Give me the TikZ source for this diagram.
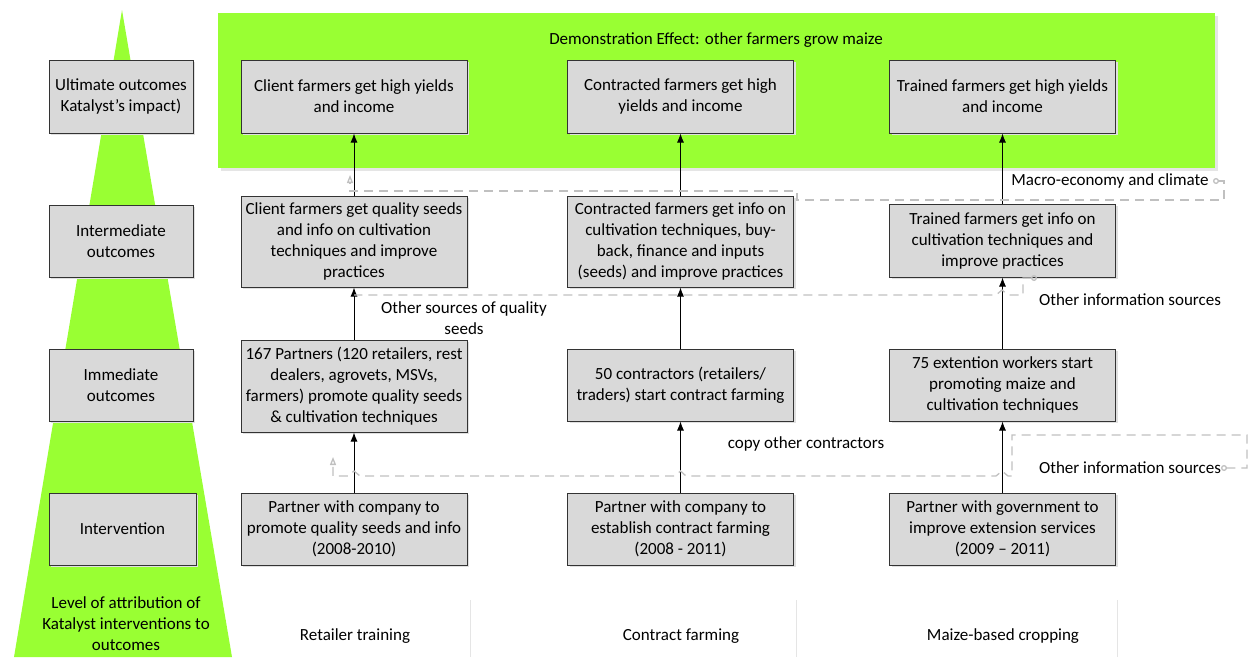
\documentclass[tikz,border=0pt]{standalone}
\usepackage{fontspec}
\setmainfont{Carlito}
\usetikzlibrary{arrows.meta,shadows}
\definecolor{lime}{RGB}{153,255,51}
\definecolor{boxgray}{RGB}{217,217,217}
\definecolor{dashgray}{RGB}{192,192,192}

\begin{document}
\begin{tikzpicture}[x=1pt,y=-1pt]
				\tikzset{every node/.style={font=\fontsize{17}{21}\selectfont,inner sep=2pt}}
				\tikzset{box/.style={draw=black!80,fill=boxgray,line width=1pt,align=center,minimum width=226pt,minimum height=73pt,drop shadow={shadow xshift=2pt,shadow yshift=-2pt,fill=black!12,opacity=1}}}
				\tikzset{lvl/.style={box,minimum width=144pt}}
				\tikzset{arr/.style={-{Latex[length=9pt,width=7pt]},line width=1pt}}
				\tikzset{ext/.style={dashgray,line width=1.3pt,dash pattern=on 9pt off 6pt}}
				\useasboundingbox (0,0) rectangle (1251,657);
				\fill[lime] (122,10) -- (14,657) -- (232,657) -- cycle;
				\fill[black!10] (221,16) rectangle (1218,171);
				\fill[lime] (218,13) rectangle (1215,168);
				\node (demolbl) at (716,40) {Demonstration Effect: other farmers grow maize};
				\node[lvl] (lvlult) at (121,96.5) {Ultimate outcomes\\Katalyst's impact)};
				\node[lvl,minimum height=72pt] (lvlint) at (121,241) {Intermediate\\outcomes};
				\node[lvl,minimum height=72pt] (lvlimm) at (121,385) {Immediate\\outcomes};
				\node[lvl,minimum width=147pt,minimum height=72pt] (lvlintv) at (122.5,529) {Intervention};
				\node[align=center] (lvlattr) at (126,624) {Level of attribution of\\Katalyst interventions to\\outcomes};
				\node[box] (ultA) at (354,96.5) {Client farmers get high yields\\and income};
				\node[box] (ultB) at (680.5,96.5) {Contracted farmers get high\\yields and income};
				\node[box] (ultC) at (1002.5,96.5) {Trained farmers get high yields\\and income};
				\node[box,minimum height=91pt] (intA) at (354,241.5) {Client farmers get quality seeds\\and info on cultivation\\techniques and improve\\practices};
				\node[box,minimum height=91pt] (intB) at (680.5,241.5) {Contracted farmers get info on\\cultivation techniques, buy-\\back, finance and inputs\\(seeds) and improve practices};
				\node[box] (intC) at (1002.5,240.5) {Trained farmers get info on\\cultivation techniques and\\improve practices};
				\node[box,minimum height=92pt] (immA) at (354,386) {167 Partners (120 retailers, rest\\dealers, agrovets, MSVs,\\farmers) promote quality seeds\\\& cultivation techniques};
				\node[box,minimum height=72pt] (immB) at (680.5,385) {50 contractors (retailers/\\traders) start contract farming};
				\node[box,minimum height=72pt] (immC) at (1002.5,385) {75 extention workers start\\promoting maize and\\cultivation techniques};
				\node[box,minimum height=72pt] (intvA) at (354,529) {Partner with company to\\promote quality seeds and info\\(2008-2010)};
				\node[box,minimum height=72pt] (intvB) at (680.5,529) {Partner with company to\\establish contract farming\\(2008 - 2011)};
				\node[box,minimum height=72pt] (intvC) at (1002.5,529) {Partner with government to\\improve extension services\\(2009 -- 2011)};
				\foreach \col in {A,B,C} {
					\draw[arr] (intv\col) -- (imm\col);
					\draw[arr] (imm\col) -- (int\col);
					\draw[arr] (int\col) -- (ult\col);
				}
				\coordinate (macro) at (1213,181);
				\coordinate (seedin) at (354,295);
				\coordinate (infoA) at (1037,278);
				\coordinate (infoB) at (1221,468);
				\draw[ext,{Circle[open,length=6pt,sep=0pt]}-{Triangle[open,length=8pt,width=6pt]}] (macro) -- (1224,181) -- (1224,200) -- (797,200) -- (797,191) -- (350,191) -- (350,175);
				\draw[ext,{Circle[open,length=6pt]}-] (infoA) -- (1023,278) -- (1023,295) -- (1008,295) -- (1002,290) -- (996,295) -- (seedin);
				\draw[ext,{Circle[open,length=6pt]}-{Triangle[open,length=8pt,width=6pt]}] (infoB) -- (1247,468) -- (1247,435) -- (1012,435) -- (1012,476) -- (1008,476) -- (1002,471) -- (996,476) -- (686,476) -- (680.5,471) -- (675,476) -- (360,476) -- (354,471) -- (348,476) -- (333,476) -- (333,457);
				\node (macrolbl) at (1110,181) {Macro-economy and climate};
				\node[align=center] (seedlbl) at (464,318.5) {Other sources of quality\\seeds};
				\node (infolblA) at (1130,300) {Other information sources};
				\node (copylbl) at (806,444) {copy other contractors};
				\node (infolblB) at (1130,468) {Other information sources};
				\foreach \x in {470,796,1117}
					\draw[black!10,line width=1pt] (\x,600) -- (\x,657);
				\node (colA) at (355,636) {Retailer training};
				\node (colB) at (681,636) {Contract farming};
				\node (colC) at (1003,636) {Maize-based cropping};
			\end{tikzpicture}
\end{document}
